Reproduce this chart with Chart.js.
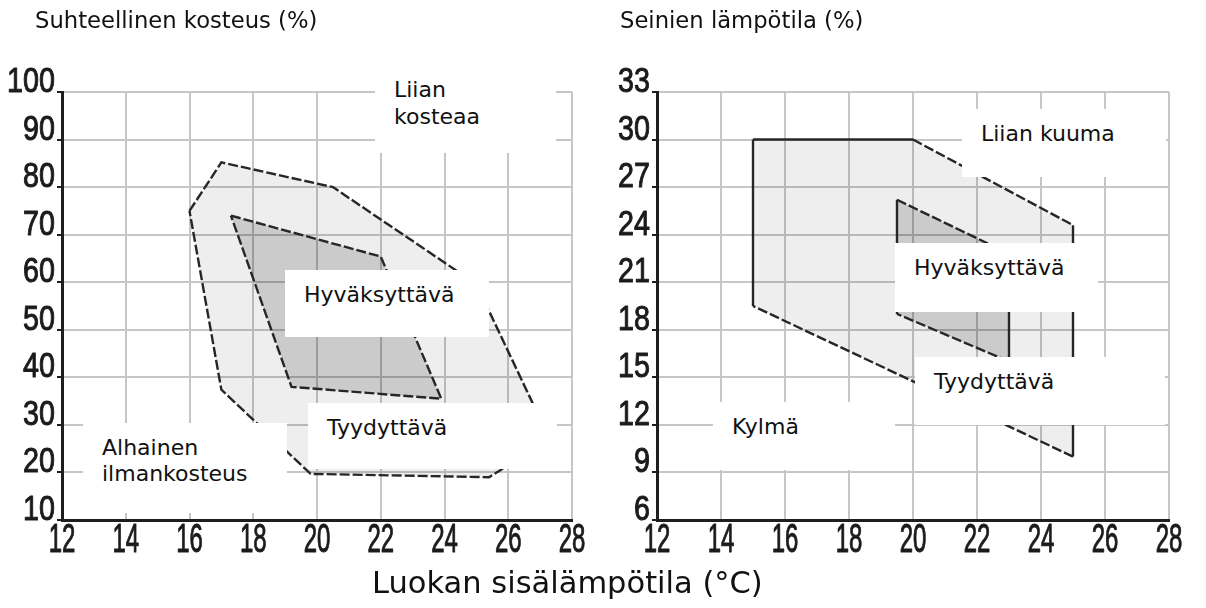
<!DOCTYPE html>
<html>
<head>
<meta charset="utf-8">
<script src="https://cdn.jsdelivr.net/npm/chart.js@4/dist/chart.umd.min.js"></script>
<style>
  body { margin: 0; background: #fff; }
  #wrap { position: relative; width: 1206px; height: 608px; overflow: hidden;
          font-family: "DejaVu Sans", Verdana, sans-serif; color: #111; }
  canvas { position: absolute; top: 0; }
  .title { position: absolute; font-size: 22.7px; line-height: 22px; white-space: nowrap; }
  .note { position: absolute; background: #fff; font-size: 22px; line-height: 27px;
          padding: 11px 0 0 19px; box-sizing: border-box; white-space: nowrap; }
</style>
</head>
<body>
<div id="wrap">
  <canvas id="humidity" width="590" height="608" style="left:0"></canvas>
  <canvas id="wall" width="616" height="608" style="left:590px"></canvas>

  <div class="title" style="left:35px;top:9px">Suhteellinen kosteus (%)</div>
  <div class="title" style="left:620px;top:9px">Seinien lämpötila (%)</div>
  <div class="title" style="left:372px;top:568px;font-size:30.5px;line-height:30px">Luokan sisälämpötila (°C)</div>

  <div class="note" style="left:375px;top:65px;width:181px;height:88px">Liian<br>kosteaa</div>
  <div class="note" style="left:285px;top:270px;width:204px;height:67px">Hyväksyttävä</div>
  <div class="note" style="left:308px;top:403px;width:249px;height:66px">Tyydyttävä</div>
  <div class="note" style="left:83px;top:423px;width:204px;height:90px;padding-top:12px;line-height:26px">Alhainen<br>ilmankosteus</div>

  <div class="note" style="left:962px;top:109px;width:204px;height:68px">Liian kuuma</div>
  <div class="note" style="left:895px;top:243px;width:203px;height:69px">Hyväksyttävä</div>
  <div class="note" style="left:915px;top:357px;width:250px;height:68px">Tyydyttävä</div>
  <div class="note" style="left:713px;top:402px;width:182px;height:68px">Kylmä</div>
</div>

<script>
// akselien jaot
const tempTicks = [12, 14, 16, 18, 20, 22, 24, 26, 28];
const humidityTicks = [10, 20, 30, 40, 50, 60, 70, 80, 90, 100];
const wallTicks = [6, 9, 12, 15, 18, 21, 24, 27, 30, 33];

// suhteellinen kosteus: tyydyttävä alue (ulompi) ja hyväksyttävä alue (sisempi)
const humSatX = [16, 17, 20.5, 25, 27.3, 25.4, 19.8, 17, 16];
const humSatY = [75, 85.2, 80, 59.6, 27, 19, 19.7, 37.4, 75];
const humAccX = [17.3, 22, 23.9, 19.2, 17.3];
const humAccY = [74, 65.4, 35.5, 38, 74];

// seinien lämpötila
const wallSatX = [15, 20, 25, 25, 15, 15];
const wallSatY = [30, 30, 24.6, 10, 19.5, 30];
const wallAccX = [19.5, 23, 23, 19.5, 19.5];
const wallAccY = [26.2, 22.8, 16, 19, 26.2];

function polygon(xs, ys, fillColor) {
  return {
    data: xs.map((x, i) => ({ x: x, y: ys[i] })),
    showLine: true,
    fill: false,
    pointRadius: 0,
    backgroundColor: fillColor,
    borderColor: '#262626',
    borderWidth: 2.4,
    // suorat reunat yhtenäisiä, vinot katkoviivaa
    segment: {
      borderDash: c => (c.p0.parsed.x === c.p1.parsed.x || c.p0.parsed.y === c.p1.parsed.y) ? [] : [10, 3]
    }
  };
}

// täyttää monikulmiot ennen reunaviivoja
const polyFill = {
  id: 'polyFill',
  beforeDatasetsDraw(chart) {
    const ctx = chart.ctx;
    chart.data.datasets.forEach((ds, i) => {
      const pts = chart.getDatasetMeta(i).data;
      ctx.save();
      ctx.beginPath();
      pts.forEach((p, j) => j ? ctx.lineTo(p.x, p.y) : ctx.moveTo(p.x, p.y));
      ctx.closePath();
      ctx.fillStyle = ds.backgroundColor;
      ctx.fill();
      ctx.restore();
    });
  }
};

// kapeat akselinumerot
function squeezedText(ctx, text, x, y, sx) {
  ctx.save();
  ctx.translate(x, y);
  ctx.scale(sx, 1);
  ctx.fillText(text, 0, 0);
  ctx.strokeText(text, 0, 0);
  ctx.restore();
}

const tickText = {
  id: 'tickText',
  afterDraw(chart) {
    const ctx = chart.ctx, xs = chart.scales.x, ys = chart.scales.y;
    ctx.save();
    ctx.fillStyle = '#1b1b1b';
    ctx.strokeStyle = '#1b1b1b';
    ctx.lineWidth = 1;
    ctx.lineJoin = 'round';
    ctx.textBaseline = 'alphabetic';
    ctx.font = '40px "Liberation Sans", Arial, sans-serif';
    ctx.textAlign = 'center';
    xs.ticks.forEach(t => squeezedText(ctx, String(t.value), xs.getPixelForValue(t.value), xs.top + 32, 0.6));
    ctx.font = '35px "Liberation Sans", Arial, sans-serif';
    ctx.textAlign = 'right';
    ys.ticks.forEach(t => squeezedText(ctx, String(t.value), ys.right - 7, ys.getPixelForValue(t.value), 0.82));
    ctx.restore();
  }
};

function makeChart(id, yTicks, yWidth, rightPad, datasets) {
  return new Chart(document.getElementById(id), {
    type: 'scatter',
    data: { datasets: datasets },
    options: {
      responsive: false,
      animation: false,
      events: [],
      layout: { padding: { top: 92, right: rightPad, left: 0, bottom: 0 } },
      plugins: { legend: { display: false }, tooltip: { enabled: false } },
      scales: {
        x: {
          type: 'linear',
          min: tempTicks[0],
          max: tempTicks[tempTicks.length - 1],
          afterBuildTicks: s => { s.ticks = tempTicks.map(v => ({ value: v })); },
          afterFit: s => { s.height = 88; },
          ticks: { display: false },
          grid: { color: '#c6c6c6', lineWidth: 2, drawTicks: false },
          border: { color: '#1e1e1e', width: 3 }
        },
        y: {
          type: 'linear',
          min: yTicks[0],
          max: yTicks[yTicks.length - 1],
          afterBuildTicks: s => { s.ticks = yTicks.map(v => ({ value: v })); },
          afterFit: s => { s.width = yWidth; },
          ticks: { display: false },
          grid: { color: '#c6c6c6', lineWidth: 2, tickLength: 5, tickColor: '#1e1e1e', tickWidth: 2 },
          border: { color: '#1e1e1e', width: 3 }
        }
      }
    },
    plugins: [polyFill, tickText]
  });
}

makeChart('humidity', humidityTicks, 62, 18, [
  polygon(humSatX, humSatY, 'rgba(0,0,0,0.065)'),
  polygon(humAccX, humAccY, 'rgba(0,0,0,0.15)')
]);

makeChart('wall', wallTicks, 67, 37, [
  polygon(wallSatX, wallSatY, 'rgba(0,0,0,0.065)'),
  polygon(wallAccX, wallAccY, 'rgba(0,0,0,0.15)')
]);
</script>
</body>
</html>
